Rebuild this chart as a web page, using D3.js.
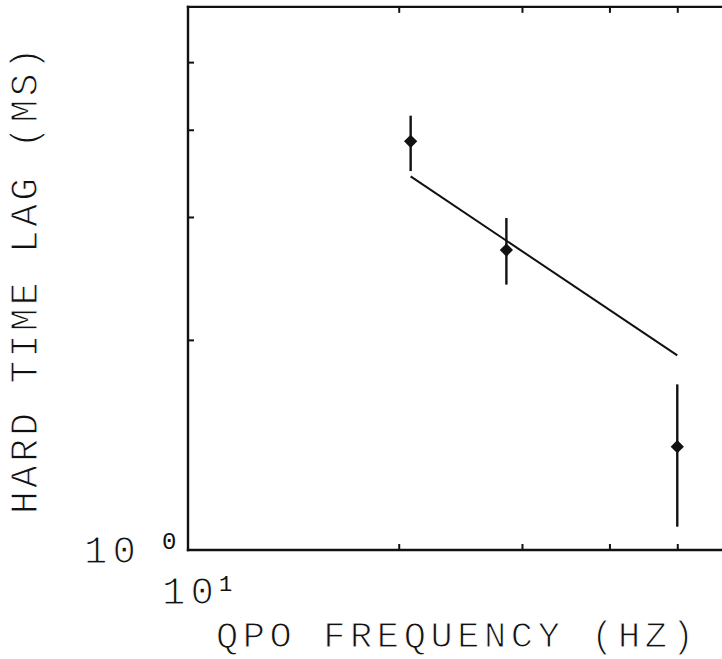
<!DOCTYPE html>
<html>
<head>
<meta charset="utf-8">
<script src="https://cdn.jsdelivr.net/npm/d3@7"></script>
<style>
  html, body { margin: 0; padding: 0; background: #fff; overflow: hidden; }
  svg { display: block; }
  /* thin plotter-like lettering: white stroke erodes the glyph a little */
  .lbl { font-family: "Liberation Mono", "DejaVu Sans Mono", monospace; fill: #111;
         stroke: #fff; stroke-width: 1.1px; }
  .sup { font-family: "Liberation Mono", "DejaVu Sans Mono", monospace; fill: #111; }
</style>
</head>
<body>
<div id="chart"></div>
<script>
// measured points (QPO freq in Hz, hard lag in ms)
const freq = [20.8, 28.5, 50.0];
const lag = [3.85, 2.69, 1.406];
const lagHi = [4.19, 2.99, 1.727];
const lagLo = [3.49, 2.40, 1.08];

// fitted power law, drawn between its end points
const fitFreq = [20.8, 50.0];
const fitLag = [3.43, 1.90];

const xTicks = [20, 30, 40, 50];
const yTicks = [2, 3, 4, 5];

const W = 722, H = 659;
const left = 188, bottom = 550;

const svg = d3.select('#chart').append('svg')
  .attr('width', W)
  .attr('height', H);

// log scales, one decade ~ 700px
const x = d3.scaleLog().domain([10, 60]).range([left, left + 700 * Math.log10(6)]);
const y = d3.scaleLog().domain([1, 6]).range([bottom, bottom - 698 * Math.log10(6)]);

const [x0, x1] = x.range();
const [y0, y1] = y.range();

// frame (right side falls outside the picture)
const frame = [[x0, y1, x0, y0], [x0, y0, x1 + 20, y0], [x0, y1, x1 + 20, y1]];
svg.selectAll('.frame')
  .data(frame)
  .enter().append('line')
  .attr('x1', d => d[0]).attr('y1', d => d[1])
  .attr('x2', d => d[2]).attr('y2', d => d[3])
  .attr('stroke', '#111').attr('stroke-width', 2.4)
  .attr('stroke-linecap', 'square');

// inward ticks
const tk = 6;
const axes = [
  d3.axisBottom(x).tickValues(xTicks).tickSize(-tk).tickFormat(''),
  d3.axisTop(x).tickValues(xTicks).tickSize(-tk).tickFormat(''),
  d3.axisLeft(y).tickValues(yTicks).tickSize(-tk).tickFormat('')
];
const pos = [`translate(0,${y0})`, `translate(0,${y1})`, `translate(${x0},0)`];
axes.forEach((ax, i) => {
  const g = svg.append('g').attr('transform', pos[i]).call(ax);
  g.select('.domain').remove();
  g.selectAll('line').attr('stroke', '#111').attr('stroke-width', 2);
});

// fit line
svg.append('path')
  .datum(d3.zip(fitFreq, fitLag))
  .attr('fill', 'none')
  .attr('stroke', '#111')
  .attr('stroke-width', 2)
  .attr('d', d3.line().x(d => x(d[0])).y(d => y(d[1])));

// error bars
svg.selectAll('.err')
  .data(d3.range(freq.length))
  .enter().append('line')
  .attr('x1', i => x(freq[i])).attr('x2', i => x(freq[i]))
  .attr('y1', i => y(lagHi[i])).attr('y2', i => y(lagLo[i]))
  .attr('stroke', '#111').attr('stroke-width', 2.4);

// diamond markers
svg.selectAll('.pt')
  .data(d3.range(freq.length))
  .enter().append('path')
  .attr('d', d3.symbol().type(d3.symbolSquare).size(88))
  .attr('transform', i => `translate(${x(freq[i])},${y(lag[i])}) rotate(45)`)
  .attr('fill', '#111');

// tick labels (decade marks only)
svg.append('text').attr('class', 'lbl').attr('x', 84).attr('y', 563)
  .attr('font-size', 39).attr('letter-spacing', 5).text('10');
svg.append('text').attr('class', 'sup').attr('x', 162).attr('y', 549)
  .attr('font-size', 24).text('0');

svg.append('text').attr('class', 'lbl').attr('x', 162).attr('y', 604)
  .attr('font-size', 39).attr('letter-spacing', 5).text('10');
svg.append('text').attr('class', 'sup').attr('x', 219).attr('y', 591)
  .attr('font-size', 22).text('1');

// axis titles
svg.append('text').attr('class', 'lbl')
  .attr('x', 216).attr('y', 647)
  .attr('font-size', 37).attr('letter-spacing', 4.6)
  .text('QPO FREQUENCY (HZ)');

svg.append('text').attr('class', 'lbl')
  .attr('transform', 'translate(37,514) rotate(-90)')
  .attr('font-size', 38).attr('letter-spacing', 3.3)
  .text('HARD TIME LAG (MS)');
</script>
</body>
</html>
